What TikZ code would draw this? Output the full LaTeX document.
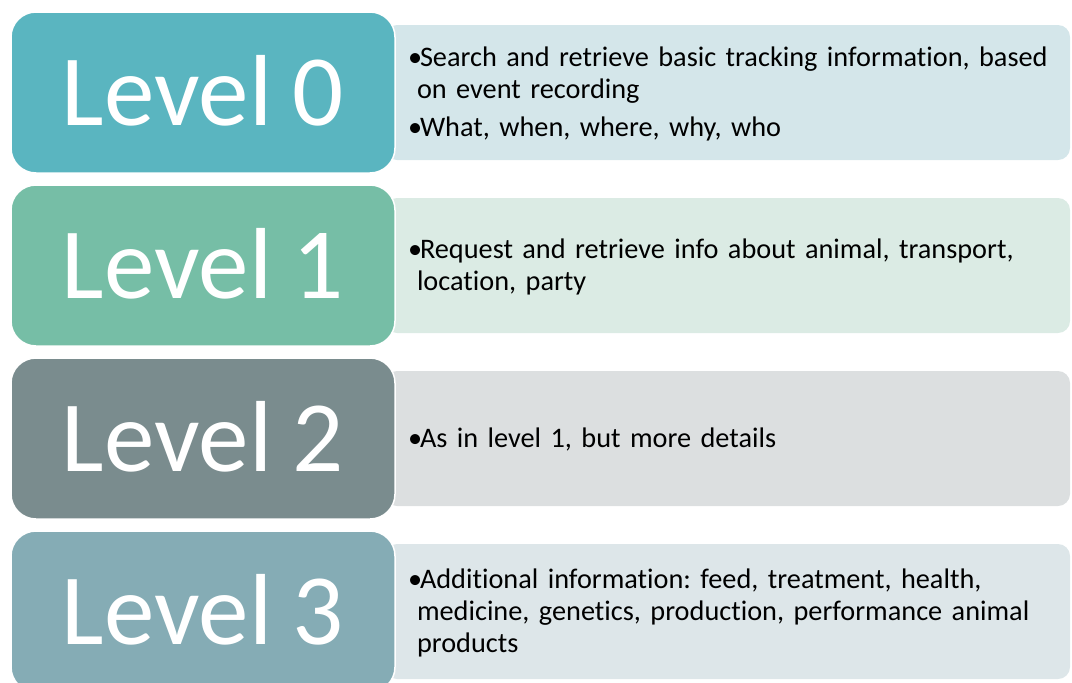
\documentclass[tikz,border=0pt]{standalone}
\usepackage{fontspec}
\setmainfont{Carlito}[Ligatures=NoCommon, WordSpace=0.9]
\definecolor{teal0}{HTML}{5AB5C0}
\definecolor{teal0light}{HTML}{D4E6EA}
\definecolor{green1}{HTML}{76BEA6}
\definecolor{green1light}{HTML}{DBEBE4}
\definecolor{grey2}{HTML}{7A8C8E}
\definecolor{grey2light}{HTML}{DCDFE0}
\definecolor{blue3}{HTML}{85ACB5}
\definecolor{blue3light}{HTML}{DDE6E9}
\frenchspacing
\newcommand{\bul}[1]{\par\leftskip=11pt\hangindent=9pt\hangafter=1\noindent\makebox[12pt][l]{•}#1\par}
\newcommand{\liftup}{\par\vspace{10pt}\hrule height 0pt}
\tikzset{
    lvlbox/.style={draw=white, line width=1.5pt, rounded corners=25pt, minimum width=384pt,
        minimum height=161pt, inner sep=0pt, text=white, font=\fontsize{101}{110}\selectfont},
    descbox/.style={rounded corners=12pt, minimum height=135pt, inner xsep=12pt, inner ysep=0pt,
        text width=661pt, align=left, font=\fontsize{28.3}{32}\selectfont}
}

\begin{document}
\begin{tikzpicture}[x=1pt, y=-1pt]
    \useasboundingbox (0,0) rectangle (1072,683);

    % level 0
    \node[descbox, fill=teal0light] (desc0) at (727.5,92.5) {\bul{Search and retrieve basic tracking information, based\newline on event recording}\vspace{6pt}\bul{What, when, where, why, who}\liftup};
    \node[lvlbox, fill=teal0] (lvl0) at (203,92.5) {\raisebox{5pt}{Level 0}};

    % level 1
    \node[descbox, fill=green1light] (desc1) at (727.5,265.5) {\bul{Request and retrieve info about animal, transport,\newline location, party}\liftup};
    \node[lvlbox, fill=green1] (lvl1) at (203,265.5) {\raisebox{5pt}{Level 1}};

    % level 2
    \node[descbox, fill=grey2light] (desc2) at (727.5,438.5) {\bul{As in level 1, but more details}\liftup};
    \node[lvlbox, fill=grey2] (lvl2) at (203,438.5) {\raisebox{5pt}{Level 2}};

    % level 3
    \node[descbox, fill=blue3light] (desc3) at (727.5,611.5) {\bul{Additional information: feed, treatment, health,\newline medicine, genetics, production, performance animal\newline products}\liftup};
    \node[lvlbox, fill=blue3] (lvl3) at (203,611.5) {\raisebox{5pt}{Level 3}};
\end{tikzpicture}
\end{document}
